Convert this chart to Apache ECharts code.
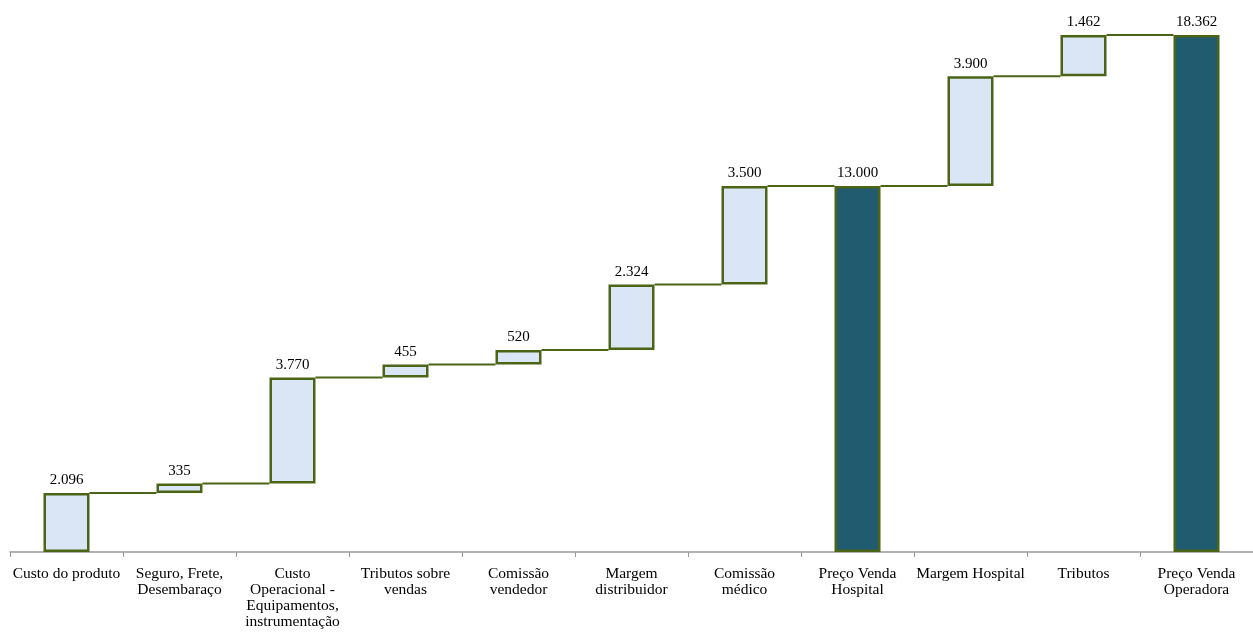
<!DOCTYPE html>
<html><head><meta charset="utf-8">
<script src="https://cdn.jsdelivr.net/npm/echarts@6/dist/echarts.min.js"></script>
<style>html,body{margin:0;padding:0;background:#fff}#c{width:1253px;height:636px}</style>
</head><body><div id="c"></div>
<script>
const categories = ["Custo do produto","Seguro, Frete,\nDesembaraço","Custo\nOperacional -\nEquipamentos,\ninstrumentação","Tributos sobre\nvendas","Comissão\nvendedor","Margem\ndistribuidor","Comissão\nmédico","Preço Venda\nHospital","Margem Hospital","Tributos","Preço Venda\nOperadora"];
const values = [2096, 335, 3770, 455, 520, 2324, 3500, 13000, 3900, 1462, 18362];
const isTotal = [false,false,false,false,false,false,false,true,false,false,true];

const base = [], shown = [], cumul = [];
let run = 0;
values.forEach((v,i)=>{
  if(isTotal[i]){ base.push(0); shown.push(v); run = v; }
  else { base.push(run); shown.push(v); run += v; }
  cumul.push(run);
});
const fmt = v => String(v).replace(/\B(?=(\d{3})+(?!\d))/g, '.');
const BORDER = '#4B6416';
const BARW = 46;

const chart = echarts.init(document.getElementById('c'), null, {renderer:'canvas'});
chart.setOption({
  animation:false,
  textStyle:{fontFamily:'Liberation Serif'},
  grid:{left:10,right:0,top:35,bottom:84},
  xAxis:{type:'category',data:categories,
    axisLine:{lineStyle:{color:'#999',width:1.5}},
    axisTick:{show:true,length:5,lineStyle:{color:'#999'}},
    axisLabel:{interval:0,color:'#000',fontSize:15.5,fontFamily:'Liberation Serif',lineHeight:16,margin:14}},
  yAxis:{type:'value',min:0,max:18362,show:false,splitLine:{show:false}},
  series:[
    {type:'bar',stack:'w',data:base,barWidth:BARW,itemStyle:{color:'transparent'},silent:true},
    {type:'bar',stack:'w',barWidth:BARW,
      data:shown.map((v,i)=>({value:v,itemStyle:{color:isTotal[i]?'#215B70':'#DAE6F6'}})),
      itemStyle:{borderColor:BORDER,borderWidth:2.5},
      label:{show:true,position:'top',distance:5,color:'#000',fontSize:15,fontFamily:'Liberation Serif',
        formatter:p=>fmt(values[p.dataIndex])}},
    {type:'custom',z:1,
      data:cumul.slice(0,-1).map((c,i)=>[i,c]),
      renderItem:(params,api)=>{
        const i=api.value(0), c=api.value(1);
        const p0=api.coord([i,c]), p1=api.coord([i+1,c]);
        return {type:'line',shape:{x1:p0[0]+BARW/2,y1:p0[1],x2:p1[0]-BARW/2,y2:p1[1]},
          style:{stroke:BORDER,lineWidth:2}};
      }}
  ]
});
</script></body></html>
